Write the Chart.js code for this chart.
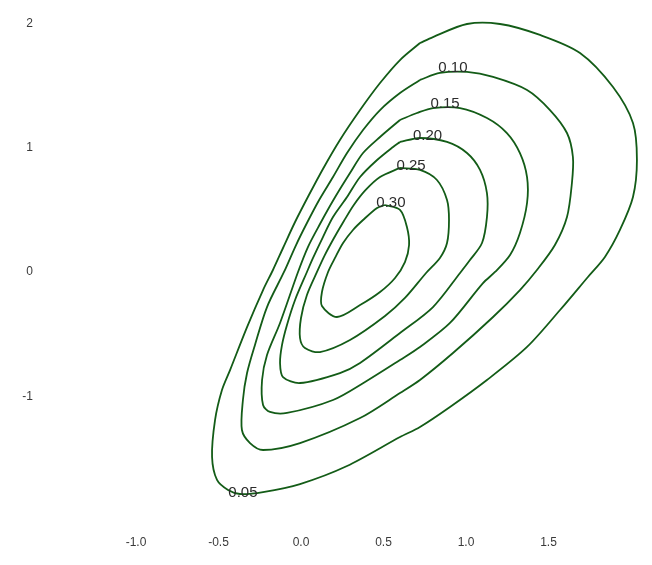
<!DOCTYPE html>
<html>
<head>
<meta charset="utf-8">
<script src="https://cdn.jsdelivr.net/npm/chart.js@4.4.1/dist/chart.umd.min.js"></script>
<style>
  html, body { margin: 0; padding: 0; background: #ffffff; }
  #wrap { width: 652px; height: 565px; position: relative; }
</style>
</head>
<body>
<div id="wrap"><canvas id="chart"></canvas></div>
<script>
// Density contour levels, outermost first
const levels = ['0.05', '0.10', '0.15', '0.20', '0.25', '0.30'];

// Contour paths as [x, y] pairs
const contour005 = [[0.721,1.826],[0.800,1.874],[1.006,1.979],[1.206,1.979],[1.448,1.891],[1.691,1.746],[1.891,1.472],[2.012,1.183],[2.036,0.885],[2.012,0.587],[1.933,0.322],[1.842,0.105],[1.739,-0.056],[1.570,-0.322],[1.370,-0.619],[1.127,-0.885],[0.903,-1.102],[0.721,-1.263],[0.600,-1.344],[0.279,-1.577],[-0.006,-1.722],[-0.230,-1.786],[-0.370,-1.802],[-0.442,-1.770],[-0.509,-1.689],[-0.539,-1.504],[-0.521,-1.207],[-0.479,-0.965],[-0.430,-0.805],[-0.327,-0.459],[-0.230,-0.161],[-0.170,0.000],[-0.109,0.177],[-0.036,0.386],[0.048,0.603],[0.133,0.813],[0.236,1.046],[0.358,1.287],[0.479,1.504],[0.600,1.689]];
const contour010 = [[0.721,1.529],[0.842,1.585],[1.006,1.593],[1.164,1.553],[1.370,1.448],[1.509,1.287],[1.612,1.102],[1.648,0.909],[1.642,0.700],[1.612,0.426],[1.539,0.201],[1.430,0.000],[1.327,-0.161],[1.164,-0.378],[0.921,-0.668],[0.721,-0.885],[0.600,-0.990],[0.358,-1.191],[-0.006,-1.392],[-0.230,-1.448],[-0.309,-1.392],[-0.358,-1.287],[-0.352,-1.046],[-0.327,-0.829],[-0.279,-0.603],[-0.206,-0.298],[-0.103,-0.016],[-0.030,0.201],[0.036,0.378],[0.110,0.563],[0.194,0.748],[0.279,0.941],[0.376,1.126],[0.479,1.287],[0.600,1.424]];
const contour015 = [[0.600,1.207],[0.703,1.263],[0.800,1.303],[0.964,1.303],[1.127,1.223],[1.248,1.102],[1.327,0.941],[1.370,0.748],[1.370,0.539],[1.327,0.298],[1.267,0.121],[1.176,-0.016],[1.103,-0.105],[0.903,-0.426],[0.721,-0.619],[0.600,-0.724],[0.388,-0.901],[0.194,-1.046],[-0.085,-1.150],[-0.188,-1.142],[-0.230,-1.086],[-0.236,-0.885],[-0.206,-0.684],[-0.127,-0.426],[-0.018,-0.016],[0.042,0.185],[0.115,0.370],[0.200,0.571],[0.297,0.780],[0.376,0.941],[0.479,1.070]];
const contour020 = [[0.600,1.030],[0.721,1.062],[0.885,1.030],[1.006,0.941],[1.085,0.805],[1.127,0.619],[1.127,0.426],[1.097,0.217],[1.024,0.080],[0.964,-0.024],[0.800,-0.298],[0.600,-0.507],[0.358,-0.748],[0.236,-0.829],[-0.006,-0.909],[-0.109,-0.861],[-0.127,-0.748],[-0.115,-0.603],[-0.085,-0.442],[-0.036,-0.241],[0.036,-0.016],[0.073,0.097],[0.133,0.265],[0.194,0.426],[0.279,0.587],[0.358,0.748],[0.461,0.885],[0.558,0.990]];
const contour025 = [[0.600,0.821],[0.721,0.805],[0.824,0.724],[0.885,0.563],[0.897,0.402],[0.885,0.217],[0.842,0.097],[0.758,-0.024],[0.630,-0.225],[0.509,-0.370],[0.297,-0.563],[0.115,-0.660],[0.024,-0.628],[-0.006,-0.547],[0.000,-0.386],[0.036,-0.201],[0.097,-0.016],[0.145,0.121],[0.200,0.257],[0.260,0.394],[0.320,0.523],[0.392,0.644],[0.479,0.748]];
const contour030 = [[0.509,0.523],[0.600,0.483],[0.642,0.346],[0.655,0.201],[0.630,0.064],[0.570,-0.064],[0.479,-0.177],[0.358,-0.282],[0.218,-0.378],[0.127,-0.290],[0.127,-0.177],[0.164,-0.016],[0.206,0.097],[0.255,0.217],[0.315,0.322],[0.376,0.402],[0.461,0.499]];

// Where each level's label sits (x, y)
const labelX = [-0.352, 0.921, 0.873, 0.767, 0.667, 0.545];
const labelY = [-1.826, 1.593, 1.303, 1.046, 0.805, 0.507];

// Axis tick values
const xTicks = [-1.0, -0.5, 0.0, 0.5, 1.0, 1.5];
const yTicks = [-1, 0, 1, 2];

const contours = [contour005, contour010, contour015, contour020, contour025, contour030];
const lineColor = '#135c17';

const datasets = contours.map((path, i) => {
  const pts = path.map(([x, y]) => ({ x, y }));
  pts.push({ x: path[0][0], y: path[0][1] }); // close the loop
  return {
    label: levels[i],
    data: pts,
    showLine: true,
    borderColor: lineColor,
    borderWidth: 1.8,
    pointRadius: 0,
    tension: 0.3,
    fill: false
  };
});

const levelLabels = {
  id: 'levelLabels',
  afterDatasetsDraw(chart) {
    const { ctx, scales: { x, y } } = chart;
    ctx.save();
    ctx.font = '15px "Liberation Sans", Arial, sans-serif';
    ctx.fillStyle = '#2b2b2b';
    ctx.textAlign = 'center';
    ctx.textBaseline = 'alphabetic';
    levels.forEach((t, i) => {
      ctx.fillText(t, x.getPixelForValue(labelX[i]), y.getPixelForValue(labelY[i]));
    });
    ctx.restore();
  }
};

// Fixed axis box sizes; tick padding must not eat into the plot area
const noEdgePadding = s => { s.paddingTop = 0; s.paddingBottom = 0; s.paddingLeft = 0; s.paddingRight = 0; };

const tickFont = { family: '"Liberation Sans", Arial, sans-serif', size: 12 };

new Chart(document.getElementById('chart'), {
  type: 'scatter',
  data: { datasets },
  options: {
    responsive: true,
    maintainAspectRatio: false,
    animation: false,
    layout: { padding: { left: 0, right: 5, top: 0, bottom: 0 } },
    plugins: { legend: { display: false }, tooltip: { enabled: false } },
    scales: {
      x: {
        type: 'linear',
        min: -1.2,
        max: 2.097,
        afterBuildTicks: s => { s.ticks = xTicks.map(v => ({ value: v })); },
        afterFit: s => { s.height = 47; noEdgePadding(s); },
        ticks: { callback: v => Number(v).toFixed(1), font: tickFont, color: '#3a3a3a', padding: 17, maxRotation: 0 },
        grid: { display: false, drawTicks: false },
        border: { display: false }
      },
      y: {
        type: 'linear',
        min: -1.995,
        max: 2.172,
        afterBuildTicks: s => { s.ticks = yTicks.map(v => ({ value: v })); },
        afterFit: s => { s.width = 103; noEdgePadding(s); },
        ticks: { callback: v => String(v), font: tickFont, color: '#3a3a3a', padding: 70, labelOffset: 2 },
        grid: { display: false, drawTicks: false },
        border: { display: false }
      }
    }
  },
  plugins: [levelLabels]
});
</script>
</body>
</html>
